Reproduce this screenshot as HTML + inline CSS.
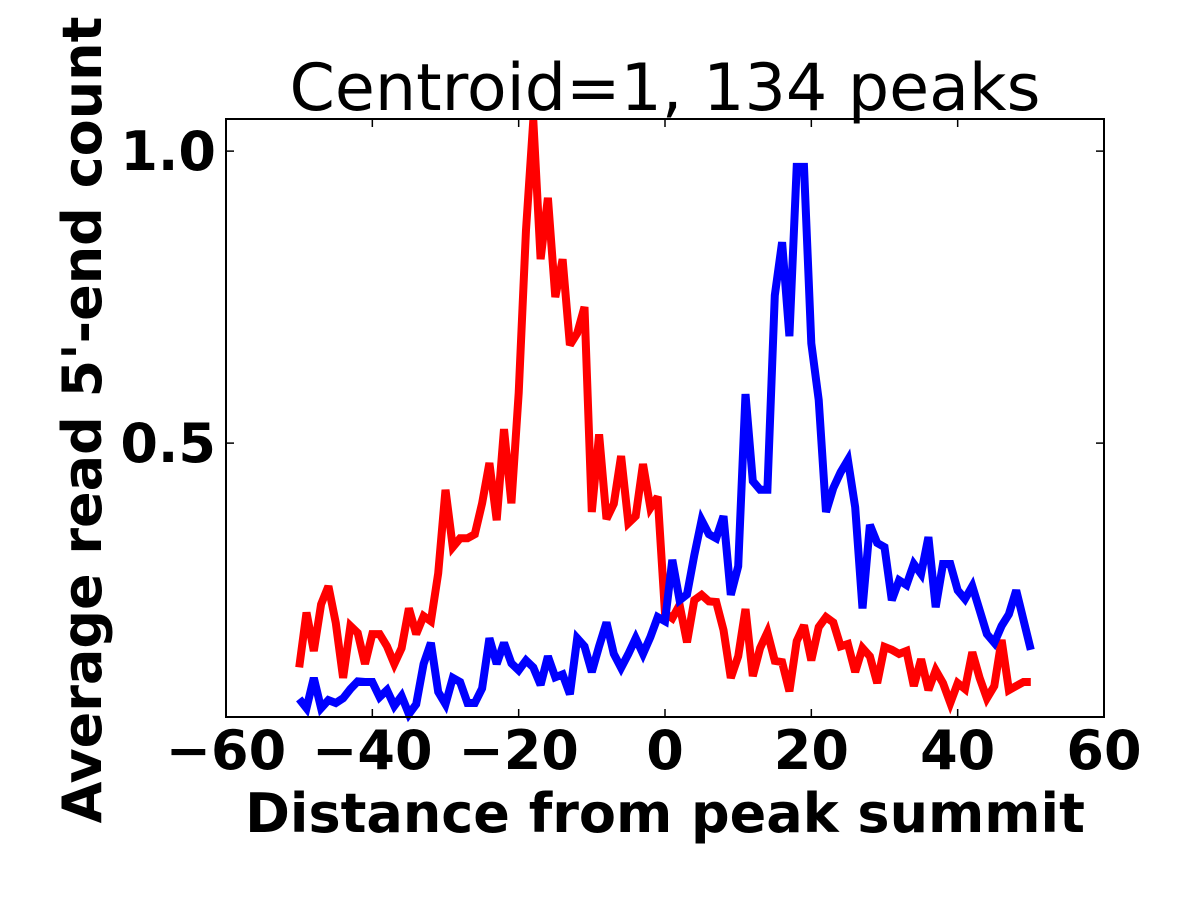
<!DOCTYPE html>
<html><head><meta charset="utf-8"><style>body{margin:0;background:#fff}svg{display:block}</style></head>
<body>
<svg id="chart" width="1200" height="900" xmlns="http://www.w3.org/2000/svg" font-family="'DejaVu Sans','Liberation Sans',sans-serif"></svg>
<script>
const xTicks=[-60,-40,-20,0,20,40,60];
const yTicks=[0.5,1.0];
const yTickLabels=["0.5","1.0"];
const positions=[];for(let i=-50;i<=50;i++)positions.push(i);
const redValues=[0.116,0.21,0.144,0.224,0.255,0.192,0.098,0.187,0.175,0.122,0.173,0.173,0.152,0.122,0.149,0.217,0.173,0.204,0.195,0.277,0.42,0.322,0.337,0.337,0.344,0.397,0.466,0.368,0.524,0.397,0.586,0.865,1.053,0.815,0.92,0.75,0.815,0.668,0.688,0.733,0.382,0.515,0.37,0.396,0.478,0.363,0.375,0.464,0.389,0.408,0.209,0.2,0.223,0.159,0.231,0.24,0.229,0.228,0.18,0.098,0.135,0.216,0.101,0.149,0.176,0.127,0.125,0.075,0.161,0.188,0.128,0.185,0.202,0.193,0.152,0.156,0.108,0.149,0.135,0.089,0.151,0.146,0.139,0.144,0.084,0.13,0.077,0.111,0.089,0.055,0.089,0.079,0.142,0.098,0.063,0.084,0.163,0.077,0.084,0.091,0.091];
const blueValues=[0.062,0.046,0.098,0.046,0.06,0.055,0.063,0.079,0.092,0.091,0.091,0.065,0.077,0.05,0.067,0.036,0.053,0.122,0.158,0.074,0.053,0.098,0.091,0.055,0.055,0.08,0.166,0.122,0.158,0.123,0.111,0.128,0.116,0.086,0.135,0.099,0.104,0.07,0.166,0.152,0.108,0.152,0.193,0.139,0.115,0.139,0.166,0.139,0.168,0.202,0.195,0.3,0.231,0.241,0.308,0.368,0.344,0.337,0.375,0.24,0.289,0.584,0.435,0.42,0.42,0.753,0.844,0.683,0.973,0.973,0.671,0.574,0.382,0.423,0.45,0.471,0.39,0.217,0.36,0.329,0.322,0.231,0.265,0.257,0.293,0.276,0.339,0.219,0.293,0.293,0.248,0.233,0.255,0.214,0.173,0.158,0.187,0.207,0.248,0.197,0.146];
const L=226,R=1104,T=119,B=717,XMIN=-60,XMAX=60,YMIN=0.031,YMAX=1.055;
const sx=v=>L+(v-XMIN)/(XMAX-XMIN)*(R-L);
const sy=v=>B-(v-YMIN)/(YMAX-YMIN)*(B-T);
const svg=document.getElementById('chart');const NS='http://www.w3.org/2000/svg';
function mk(tag,attrs,text){const e=document.createElementNS(NS,tag);for(const k in attrs)e.setAttribute(k,attrs[k]);if(text!==undefined)e.textContent=text;svg.appendChild(e);return e;}
function line(vals,color,name){const d=vals.map((v,i)=>(i?'L':'M')+sx(positions[i]).toFixed(1)+','+sy(v).toFixed(1)).join('');
const p=mk('path',{d:d,fill:'none',stroke:color,'stroke-width':8,'stroke-linejoin':'miter','stroke-miterlimit':3});

}
line(redValues,'#ff0000','red-series');
line(blueValues,'#0000ff','blue-series');
const f=mk('rect',{x:L,y:T,width:R-L,height:B-T,fill:'none',stroke:'#000','stroke-width':2});


xTicks.forEach(t=>{const x=sx(t);mk('line',{x1:x,y1:B,x2:x,y2:B-8,stroke:'#000','stroke-width':1.5});mk('line',{x1:x,y1:T,x2:x,y2:T+8,stroke:'#000','stroke-width':1.5});
const lb=mk('text',{x:x,y:B+52,'text-anchor':'middle','font-size':54,'font-weight':'bold'},(t<0?'\u2212':'')+Math.abs(t));

});
yTicks.forEach((t,i)=>{const y=sy(t);mk('line',{x1:L,y1:y,x2:L+8,y2:y,stroke:'#000','stroke-width':1.5});mk('line',{x1:R,y1:y,x2:R-8,y2:y,stroke:'#000','stroke-width':1.5});
const lb=mk('text',{x:L-10,y:y+19,'text-anchor':'end','font-size':54,'font-weight':'bold'},yTickLabels[i]);

});
const ti=mk('text',{x:665,y:110,'text-anchor':'middle','font-size':65},'Centroid=1, 134 peaks');


const xl=mk('text',{x:665,y:832,'text-anchor':'middle','font-size':54,'font-weight':'bold'},'Distance from peak summit');


const yl=mk('text',{x:0,y:0,'text-anchor':'middle','font-size':54,'font-weight':'bold',transform:'translate(101,420) rotate(-90)'},"Average read 5'-end count");


</script>
</body></html>
